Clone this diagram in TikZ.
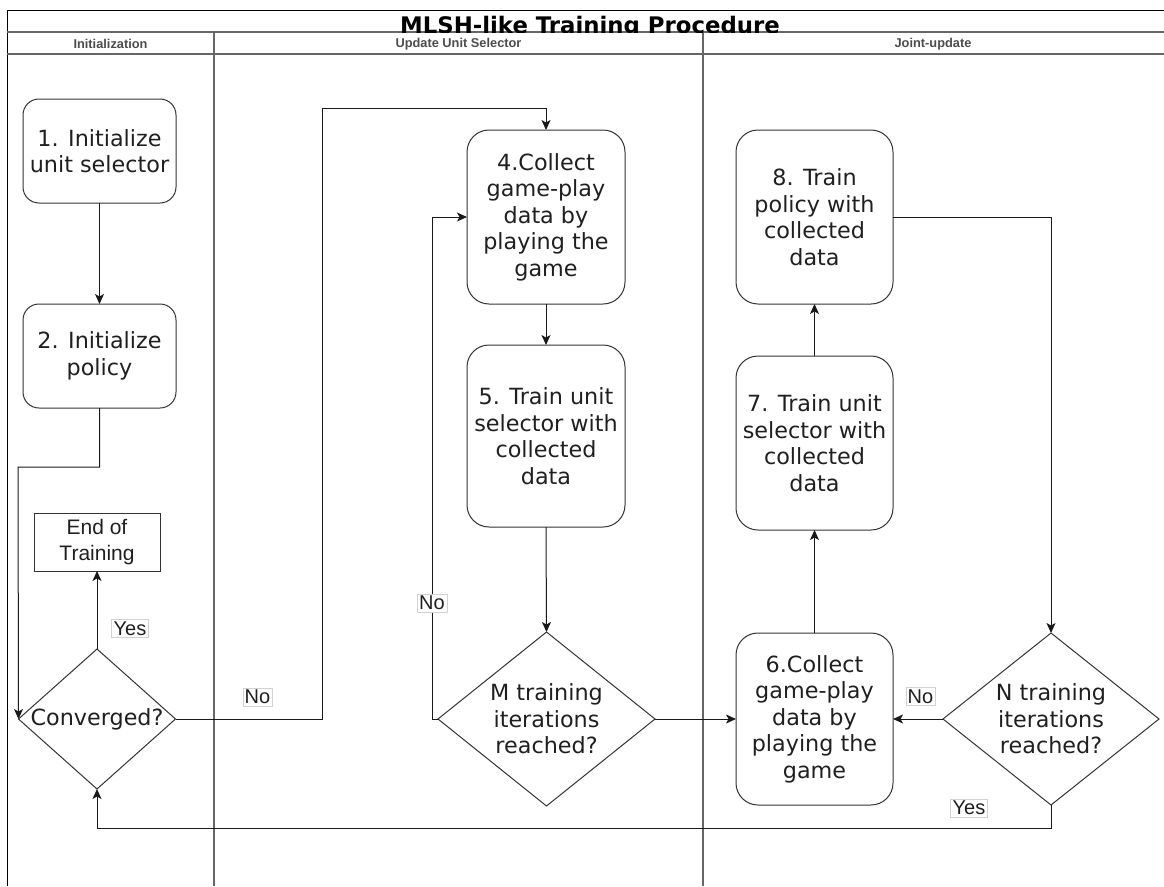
\documentclass[tikz,border=0pt]{standalone}
\usepackage{fontspec}
\setmainfont{DejaVu Sans}
\newfontfamily\arialfont{Liberation Sans}
\usetikzlibrary{arrows.meta,shapes.geometric}

% text sizes used in the chart
\newcommand\stepfont{\fontsize{22.3}{26.5}\selectfont}
\newcommand\titlefont{\fontsize{22.8}{26}\selectfont\bfseries}
\newcommand\lanefont{\arialfont\fontsize{12.8}{14}\selectfont\bfseries}
\newcommand\lblfont{\arialfont\fontsize{20}{23}\selectfont}
\newcommand\finalfont{\arialfont\fontsize{21}{26}\selectfont}

\begin{document}
\begin{tikzpicture}[x=1pt,y=-1pt,
  every node/.style={inner sep=0pt,outer sep=0pt,text=black!88},
  stepbox/.style={draw=black!80,line width=1pt,rounded corners=#1,
    align=center,font=\stepfont},
  stepbox/.default=22pt,
  decision/.style={diamond,draw=black!80,line width=1pt},
  dtext/.style={font=\stepfont,align=center},
  frame/.style={line width=1pt,black},
  lane/.style={line width=1.2pt,black!60},
  arr/.style={-{Stealth[length=10pt,width=9pt,inset=2.5pt]},line width=1pt,black!90},
  lbl/.style={draw=black!18,fill=white,font=\lblfont,inner sep=2pt},
]
\useasboundingbox (0,0) rectangle (1164,886);

% pool frame and swim lanes
\draw[frame] (7,886) -- (7,10) -- (1164,10);
\draw[lane] (7,32) -- (1164,32);
\draw[lane] (7,54) -- (1164,54);
\draw[lane] (214,32) -- (214,886);
\draw[lane] (703,32) -- (703,886);

\begin{scope}
  \clip (7,10) rectangle (1164,32);
  \node[font=\titlefont,anchor=base,text=black] (title) at (590,33) {MLSH-like Training Procedure};
\end{scope}

\node[font=\lanefont,text=black!70] (laneA) at (110.5,44) {Initialization};
\node[font=\lanefont,text=black!70] (laneB) at (458.5,44) {Update Unit Selector};
\node[font=\lanefont,text=black!70] (laneC) at (933,44) {Joint-update};

% process steps
\node[stepbox=16pt,minimum width=153pt,minimum height=104pt] (b1) at (99.5,151) {1. Initialize\\unit selector};
\node[stepbox=16pt,minimum width=153pt,minimum height=104pt] (b2) at (99.5,356) {2. Initialize\\policy};
\node[stepbox,minimum width=158pt,minimum height=174pt] (b4) at (546,217) {4.Collect\\game-play\\data by\\playing the\\game};
\node[stepbox,minimum width=158pt,minimum height=182pt] (b5) at (546,436) {5. Train unit\\selector with\\collected\\data};
\node[stepbox,minimum width=157pt,minimum height=172pt] (b6) at (814.5,719) {6.Collect\\game-play\\data by\\playing the\\game};
\node[stepbox,minimum width=157pt,minimum height=174pt] (b7) at (814.5,443) {7. Train unit\\selector with\\collected\\data};
\node[stepbox,minimum width=157pt,minimum height=174pt] (b8) at (814.5,217) {8. Train\\policy with\\collected\\data};

\node[draw=black!80,line width=1pt,minimum width=126pt,minimum height=58pt,
      align=center,font=\finalfont] (done) at (97,542) {End of\\Training};

% decisions
\node[decision,minimum width=157pt,minimum height=140pt] (conv) at (97,719) {};
\node[dtext] (convt) at (conv.center) {Converged?};
\node[decision,minimum width=217pt,minimum height=174pt] (mdec) at (546.5,719) {};
\node[dtext] (mdect) at (mdec.center) {M training\\iterations\\reached?};
\node[decision,minimum width=216pt,minimum height=172pt] (ndec) at (1051,719) {};
\node[dtext] (ndect) at (ndec.center) {N training\\iterations\\reached?};

% bend points of the routed connectors
\coordinate (k1) at (18,467);
\coordinate (k2) at (322,108);
\coordinate (k3) at (432,217);
\coordinate (k4) at (1051,828);

% connectors
\draw[arr] (b1) -- (b2);
\draw[arr] (b2.south) |- (k1) -- (conv.west);
\draw[arr] (conv.north) -- (done.south);
\draw[arr] (conv.east) -| (k2) -| (b4.north);
\draw[arr] (b4) -- (b5);
\draw[arr] (b5.south) -- (mdec.north);
\draw[arr] (mdec.west) -| (k3) -- (b4.west);
\draw[arr] (mdec.east) -- (b6.west);
\draw[arr] (b6) -- (b7);
\draw[arr] (b7) -- (b8);
\draw[arr] (b8.east) -| (ndec.north);
\draw[arr] (ndec.west) -- (b6.east);
\draw[arr] (ndec.south) -- (k4) -| (conv.south);

% connector labels
\node[lbl] (yes1) at (130,628.5) {Yes};
\node[lbl] (no1) at (257.5,697) {No};
\node[lbl] (no2) at (432,603) {No};
\node[lbl] (no3) at (920.5,696.5) {No};
\node[lbl] (yes2) at (969,808) {Yes};
\end{tikzpicture}
\end{document}
